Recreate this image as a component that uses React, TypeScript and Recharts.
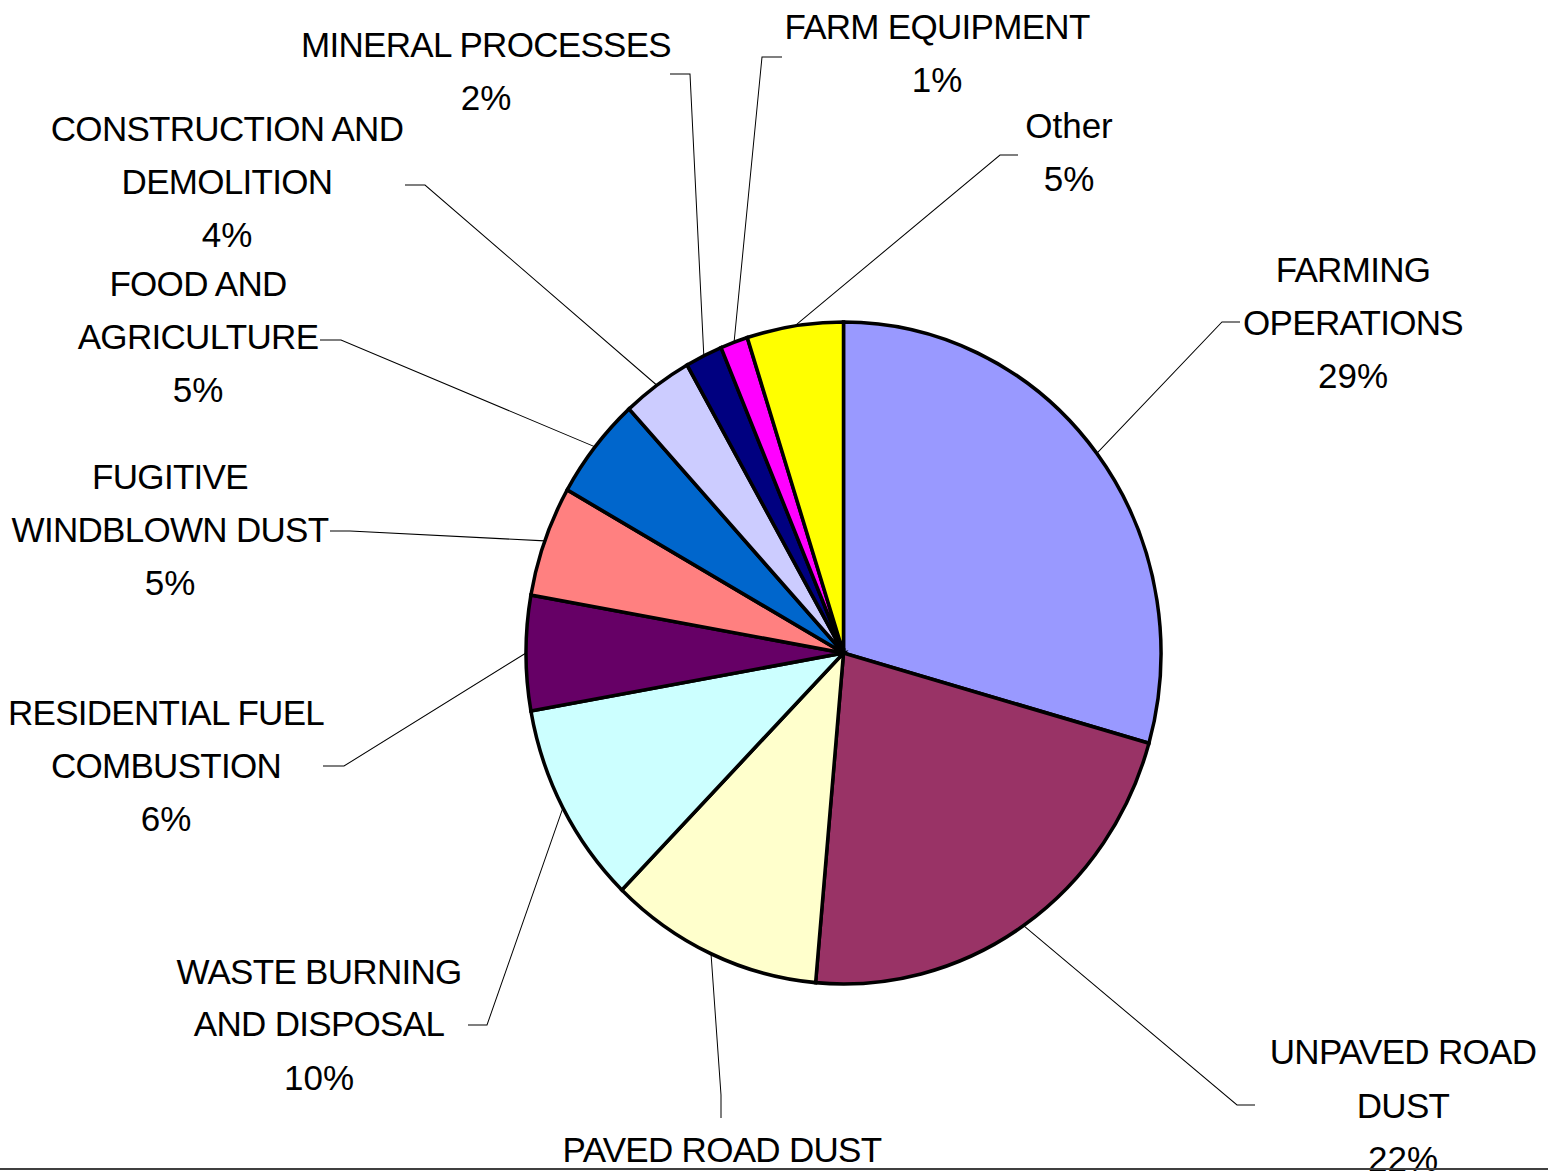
import React from 'react';
import { PieChart, Pie, Cell } from 'recharts';

// ---- data ----
const CATEGORIES = [
  'FARMING OPERATIONS',
  'UNPAVED ROAD DUST',
  'PAVED ROAD DUST',
  'WASTE BURNING AND DISPOSAL',
  'RESIDENTIAL FUEL COMBUSTION',
  'FUGITIVE WINDBLOWN DUST',
  'FOOD AND AGRICULTURE',
  'CONSTRUCTION AND DEMOLITION',
  'MINERAL PROCESSES',
  'FARM EQUIPMENT',
  'Other',
];
const SHARES = [29.4, 22.0, 10.9, 9.9, 5.6, 5.4, 5.0, 3.6, 1.9, 1.4, 4.9];
const LABEL_LINES = [
  ['FARMING', 'OPERATIONS'],
  ['UNPAVED ROAD', 'DUST'],
  ['PAVED ROAD DUST'],
  ['WASTE BURNING', 'AND DISPOSAL'],
  ['RESIDENTIAL FUEL', 'COMBUSTION'],
  ['FUGITIVE', 'WINDBLOWN DUST'],
  ['FOOD AND', 'AGRICULTURE'],
  ['CONSTRUCTION AND', 'DEMOLITION'],
  ['MINERAL PROCESSES'],
  ['FARM EQUIPMENT'],
  ['Other'],
];

// ---- styles / layout ----
const COLORS = ['#9999FF', '#993366', '#FFFFCC', '#CCFFFF', '#660066', '#FF8080', '#0066CC', '#CCCCFF', '#000080', '#FF00FF', '#FFFF00'];
const W = 1548;
const H = 1172;
const CX = 843.5;
const CY = 653;
const R = 317.5;
const SY = 1.0424; // slight vertical stretch of the original picture
const LINE_GAP = 53;
const FONT = '"Liberation Sans", Arial, sans-serif';

// label block layout (screen space): text centre x, first line centre y, elbow, end of leader
const LABEL_LAYOUT = [
  { x: 1353, y: 269, elbow: [1222, 322], end: [1240, 322] },
  { x: 1403, y: 1052, elbow: [1237, 1105], end: [1255, 1105] },
  { x: 722, y: 1150, elbow: [721, 1095], end: [721, 1118] },
  { x: 319, y: 971, elbow: [487, 1025], end: [468, 1025] },
  { x: 166, y: 712, elbow: [344, 766], end: [323, 766] },
  { x: 170, y: 476, elbow: [350, 531], end: [330, 531] },
  { x: 198, y: 283, elbow: [341, 340], end: [320, 340] },
  { x: 227, y: 128, elbow: [425, 185], end: [405, 185] },
  { x: 486, y: 44, elbow: [690, 74], end: [670, 74] },
  { x: 937, y: 26, elbow: [762, 57], end: [782, 57] },
  { x: 1069, y: 125, elbow: [1000, 155], end: [1018, 155] },
];

const data = CATEGORIES.map((name, i) => ({ name, value: SHARES[i] }));

const toC = (ys: number) => CY + (ys - CY) / SY;

const renderLabel = (props: any) => {
  const { cx, cy, midAngle, outerRadius, percent } = props;
  let index = props.index;
  if (index === undefined || index === null) {
    index = CATEGORIES.indexOf(props.name ?? props.payload?.name);
  }
  const L = LABEL_LAYOUT[index];
  if (!L) return null;
  const RAD = Math.PI / 180;
  const sx = cx + outerRadius * Math.cos(-midAngle * RAD);
  const sy = cy + outerRadius * Math.sin(-midAngle * RAD);
  const lines = [...LABEL_LINES[index], `${Math.round(percent * 100)}%`];
  return (
    <g key={`lbl-${index}`}>
      <polyline
        points={`${sx},${sy} ${L.elbow[0]},${toC(L.elbow[1])} ${L.end[0]},${toC(L.end[1])}`}
        fill="none"
        stroke="#000"
        strokeWidth={1}
      />
      {lines.map((t, i) => {
        const caps = /[A-Z]/.test(t) && t === t.toUpperCase();
        return (
          <text
            key={i}
            transform={`translate(${L.x},${toC(L.y + i * LINE_GAP)}) scale(1,${1 / SY})`}
            x={0}
            y={12.5}
            textAnchor="middle"
            fontFamily={FONT}
            fontSize={35}
            letterSpacing={caps ? -0.7 : 0}
            fill="#000"
          >
            {t}
          </text>
        );
      })}
    </g>
  );
};

export default function App() {
  return (
    <div style={{ position: 'absolute', left: 0, top: 0, width: W, height: H, overflow: 'hidden', background: '#fff' }}>
      <div style={{ width: W, height: H, transform: `scaleY(${SY})`, transformOrigin: `0px ${CY}px` }}>
        <PieChart width={W} height={H} margin={{ top: 0, right: 0, bottom: 0, left: 0 }}>
          <Pie
            data={data}
            dataKey="value"
            nameKey="name"
            cx={CX}
            cy={CY}
            outerRadius={R}
            startAngle={90}
            endAngle={-270}
            stroke="#000"
            strokeWidth={3.5}
            label={renderLabel}
            labelLine={false}
            isAnimationActive={false}
          >
            {data.map((d, i) => (
              <Cell key={d.name} fill={COLORS[i]} stroke="#000" strokeWidth={3.5} />
            ))}
          </Pie>
        </PieChart>
      </div>
      <div style={{ position: 'absolute', left: 0, top: 1168, width: W, height: 2, background: '#404040' }} />
    </div>
  );
}
